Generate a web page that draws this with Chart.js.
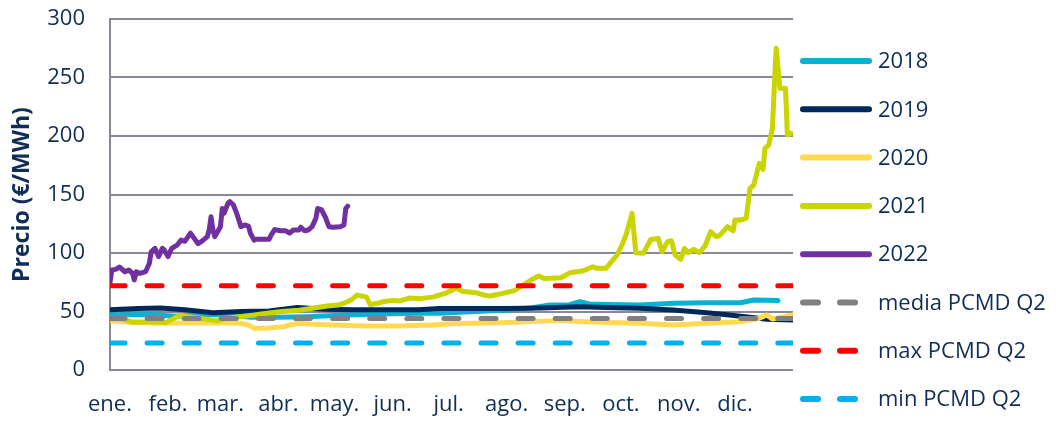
<!DOCTYPE html>
<html>
<head>
<meta charset="utf-8">
<script src="https://cdn.jsdelivr.net/npm/chart.js@4"></script>
<style>
  html, body { margin: 0; padding: 0; background: #fff; }
</style>
</head>
<body>
<canvas id="chart" width="1056" height="421"></canvas>
<script>
const months = ['ene.', 'feb.', 'mar.', 'abr.', 'may.', 'jun.', 'jul.', 'ago.', 'sep.', 'oct.', 'nov.', 'dic.'];
const monthStartDays = [0, 31, 59, 90, 120, 151, 181, 212, 243, 273, 304, 334];

const days2018 = [0, 20, 35, 50, 65, 75, 90, 105, 120, 135, 150, 165, 176, 195, 212, 225, 235, 245, 251, 256, 266, 283, 301, 319, 337, 344, 357];
const price2018 = [47, 47.5, 46, 47.5, 47, 45, 45, 45.5, 46.5, 47.5, 48, 48.5, 48.5, 50, 51.3, 53, 55.6, 55.5, 58.4, 56.4, 56, 55.6, 57, 57.5, 57.5, 59.8, 59.3];

const days2019 = [0, 15, 27, 40, 55, 70, 85, 100, 115, 130, 150, 165, 176, 195, 212, 230, 251, 265, 283, 301, 319, 331, 342, 351, 365];
const price2019 = [51.5, 52.5, 53, 51.5, 49, 50, 50.5, 53.5, 52, 51.5, 51.5, 51.5, 52.5, 52.5, 52.5, 53, 54, 53.5, 52.7, 51.3, 49, 47, 45, 43.3, 42.7];

const days2020 = [0, 12, 30, 48, 70, 74, 77, 85, 93, 96, 101, 109, 119, 137, 155, 173, 182, 212, 239, 266, 283, 301, 319, 337, 347, 351, 354, 365];
const price2020 = [42, 40.7, 39.9, 40.3, 39.9, 38.5, 35.6, 36, 37, 38.5, 39.9, 39, 38.5, 37.6, 37.6, 38.5, 39.5, 40.7, 42.2, 40.7, 39.9, 38.5, 39.9, 41.3, 44.2, 47, 43.6, 47];

const days2021 = [0, 6, 12, 21, 30, 34, 37, 44, 48, 57, 62, 69, 77, 84, 92, 101, 109, 116, 122, 126,
  129, 132, 137, 139, 143, 146, 151, 155, 160, 166, 173, 179, 185, 189, 196, 200, 203, 210, 216, 221,
  225, 229, 232, 241, 246, 253, 258, 260, 265, 271, 274, 276, 279, 280, 281, 285, 289, 293, 295, 298,
  300, 302, 305, 307, 309, 312, 315, 318, 321, 324, 326, 330, 333, 334, 337, 340, 342, 344, 347, 349,
  350, 352, 354, 355, 356, 358, 361, 362, 364];
const price2021 = [43.5, 44, 41, 41, 40.5, 44, 46.5, 45, 44.2, 42, 44, 45.6, 47, 48.5, 50, 51, 53, 54.7, 55.5, 57.6,
  60, 64, 62.5, 56, 57, 58.4, 59.5, 59, 61.5, 61, 62.5, 65.5, 69.8, 67, 66, 64, 63.2, 65.5, 67.8, 72.6,
  76.9, 80.3, 78.3, 78.9, 83.2, 84.9, 88.3, 86.9, 86.9, 98.3, 108.3, 116.8, 133.9, 116.8, 100.3, 99.7, 111.6, 112.5, 101.1, 109.7,
  110.5, 98.3, 94.6, 104, 100.3, 103.1, 100.3, 106, 118.2, 113.9, 115.3, 122.5, 119, 128.2, 128.2, 129.6, 155.3, 158.1, 176.6, 171.5,
  189.5, 192.3, 206.6, 242.2, 275, 240.8, 240.8, 200.9, 202.3];

const days2022 = [0, 1, 3, 5, 8, 10, 12, 13, 14, 16, 19, 21, 22, 24, 26, 28, 29, 31, 33, 36,
  38, 40, 43, 45, 47, 49, 52, 53, 54, 55, 56, 58, 59, 60, 61, 63, 64, 66, 68, 70,
  72, 74, 75, 77, 78, 82, 85, 86, 88, 91, 94, 96, 98, 101, 102, 104, 106, 108, 110, 111,
  113, 115, 117, 119, 123, 125, 126, 127];
const price2022 = [75, 85.5, 86, 88, 84, 85.5, 82.6, 77, 84, 82.6, 84, 91, 101, 104, 97, 104, 102.6, 97, 104, 107,
  111, 110, 117, 112.5, 108, 110, 114, 119.7, 131, 119.7, 114, 119.7, 122.5, 138, 134, 142.5, 144, 141, 132.5, 122.5,
  124, 123, 117, 111, 111.7, 111.7, 111.7, 115, 120, 119, 119, 117, 119.7, 119.7, 122, 119, 119.7, 122.5, 129.6, 138,
  137, 131, 122.5, 122, 122.5, 124, 138, 140];

const yearSpan = [0, 365];
const mediaQ2 = 44;
const maxQ2 = 72;
const minQ2 = 23;

const TEXT_COLOR = '#0F2D55';
const GRID_COLOR = '#868A96';
const FONT = '"Open Sans", "Liberation Sans", sans-serif';

function toPoints(days, values) {
  return days.map(function (d, i) {
    return { x: d, y: values[i] };
  });
}

function flatLine(value) {
  return yearSpan.map(function (d) {
    return { x: d, y: value };
  });
}

function series(label, color, points) {
  return {
    label: label,
    data: points,
    borderColor: color,
    backgroundColor: color,
    borderWidth: 5,
    borderCapStyle: 'round',
    borderJoinStyle: 'round',
    pointRadius: 0,
    tension: 0
  };
}

function dashed(label, color, value) {
  const ds = series(label, color, flatLine(value));
  ds.borderWidth = 5;
  ds.borderDash = [15, 22.1];
  ds.clip = { left: 0, right: 0, top: 10, bottom: 10 };
  return ds;
}

const datasets = [
  series('2018', '#0AB1D3', toPoints(days2018, price2018)),
  series('2019', '#00285A', toPoints(days2019, price2019)),
  series('2020', '#FFD94F', toPoints(days2020, price2020)),
  series('2021', '#C9D400', toPoints(days2021, price2021)),
  series('2022', '#7030A0', toPoints(days2022, price2022)),
  dashed('media PCMD Q2', '#808080', mediaQ2),
  dashed('max PCMD Q2', '#FF0000', maxQ2),
  dashed('min PCMD Q2', '#00B0F0', minQ2)
];

// later series on top, like the spreadsheet
datasets.forEach(function (ds, i) {
  ds.order = datasets.length - i;
});

const sideLegend = {
  id: 'sideLegend',
  afterDraw: function (chart) {
    const ctx = chart.ctx;
    chart.data.datasets.forEach(function (ds, i) {
      const y = 61 + i * 48.3;
      ctx.save();
      ctx.strokeStyle = ds.borderColor;
      ctx.lineWidth = 6;
      ctx.lineCap = 'round';
      ctx.setLineDash(ds.borderDash ? [15, 22] : []);
      ctx.beginPath();
      ctx.moveTo(803, y);
      ctx.lineTo(869, y);
      ctx.stroke();
      ctx.setLineDash([]);
      ctx.fillStyle = TEXT_COLOR;
      ctx.font = '22px ' + FONT;
      ctx.textBaseline = 'middle';
      ctx.fillText(ds.label, 878, y + 1);
      ctx.restore();
    });
  }
};

function drawChart() {
  new Chart(document.getElementById('chart'), {
    type: 'line',
    data: { datasets: datasets },
    options: {
      responsive: false,
      animation: false,
      layout: { padding: { top: 0, right: 263, left: 0, bottom: 0 } },
      plugins: {
        legend: { display: false },
        tooltip: { enabled: false }
      },
      scales: {
        x: {
          type: 'linear',
          min: 0,
          max: 365,
          grid: { display: false },
          border: { display: false },
          afterBuildTicks: function (scale) {
            scale.ticks = monthStartDays.map(function (d) {
              return { value: d };
            });
          },
          afterFit: function (scale) {
            scale.height = 51;
          },
          ticks: {
            autoSkip: false,
            maxRotation: 0,
            padding: 14,
            color: TEXT_COLOR,
            font: { family: FONT, size: 22 },
            callback: function (value) {
              return months[monthStartDays.indexOf(value)];
            }
          }
        },
        y: {
          min: 0,
          max: 300,
          afterFit: function (scale) {
            scale.width = 110;
            scale.paddingTop = 19;
            scale.paddingBottom = 0;
          },
          ticks: {
            stepSize: 50,
            padding: 25,
            color: TEXT_COLOR,
            font: { family: FONT, size: 22 }
          },
          grid: { color: GRID_COLOR, lineWidth: 2, drawTicks: false },
          border: { display: true, color: GRID_COLOR, width: 2 },
          title: {
            display: true,
            text: 'Precio (€/MWh)',
            color: TEXT_COLOR,
            font: { family: FONT, size: 23, weight: 'bold' },
            padding: { top: 9, bottom: 0 }
          }
        }
      }
    },
    plugins: [sideLegend]
  });
}

Promise.all([
  document.fonts.load('22px "Open Sans"'),
  document.fonts.load('bold 22px "Open Sans"')
]).then(drawChart, drawChart);
</script>
</body>
</html>
